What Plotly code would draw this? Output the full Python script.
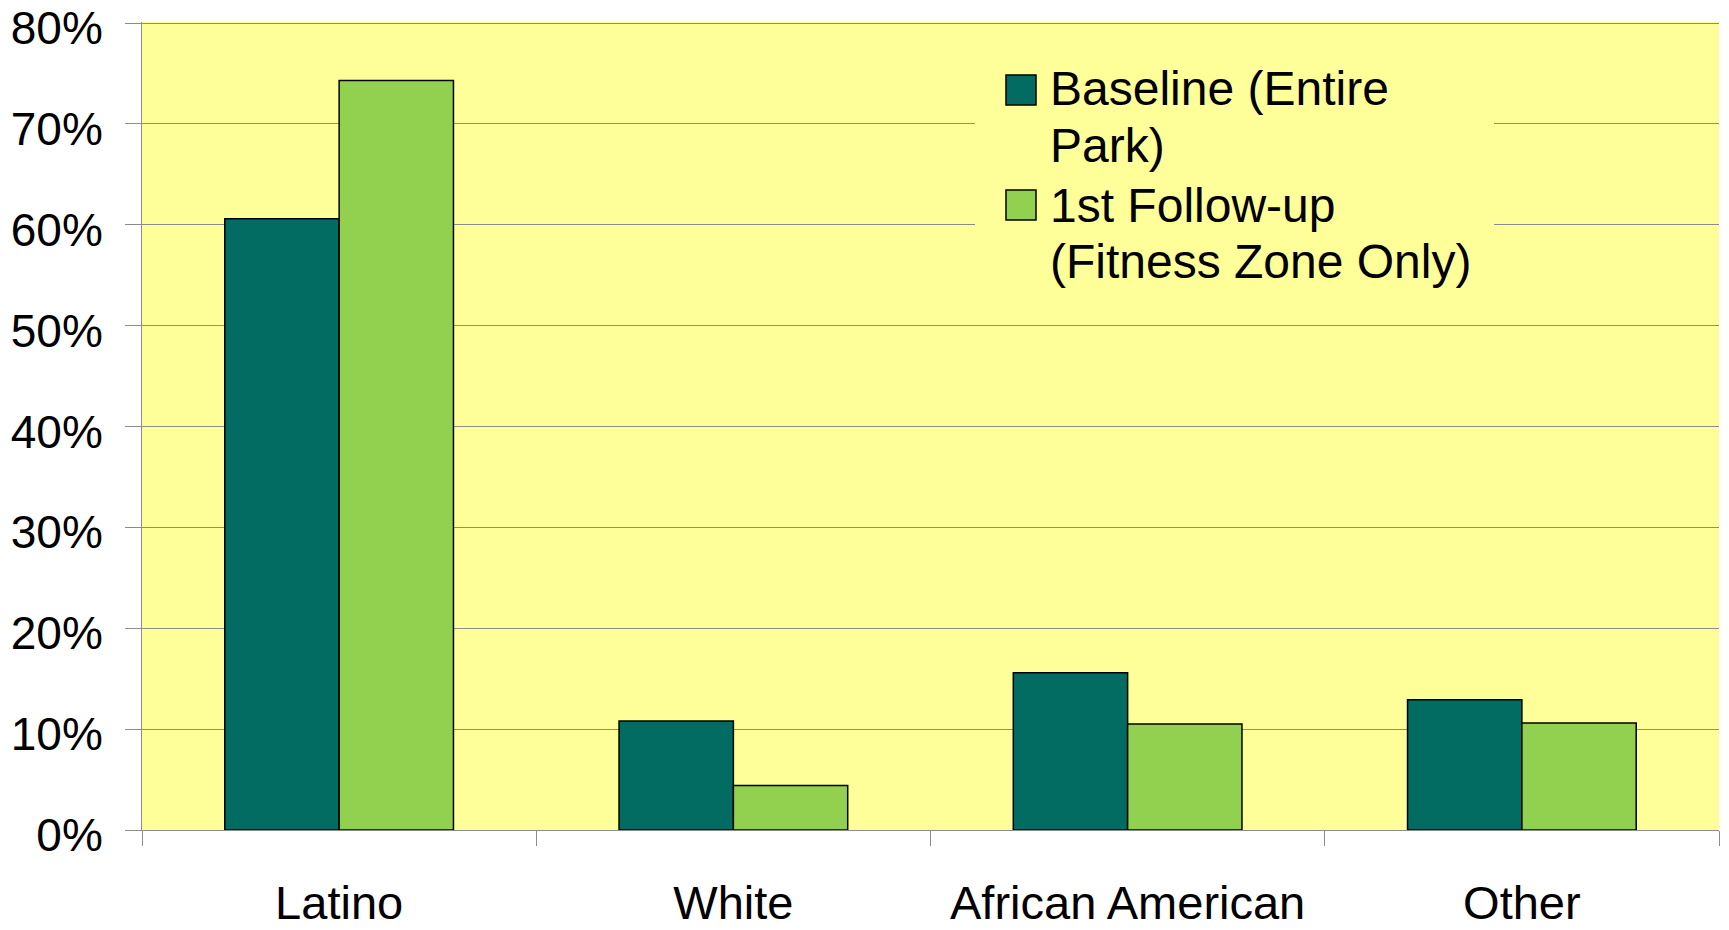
import plotly.graph_objects as go

# Share of park users by race/ethnicity (percent)
categories = ["Latino", "White", "African American", "Other"]
baseline = [60.6, 10.8, 15.6, 12.9]
follow_up = [74.3, 4.4, 10.5, 10.6]

series_names = ["Baseline (Entire Park)", "1st Follow-up (Fitness Zone Only)"]
legend_lines = [["Baseline (Entire", "Park)"], ["1st Follow-up", "(Fitness Zone Only)"]]
y_tick_values = [0, 10, 20, 30, 40, 50, 60, 70, 80]
y_tick_labels = ["0%", "10%", "20%", "30%", "40%", "50%", "60%", "70%", "80%"]

TEAL = "#036C62"
LIME = "#92D050"
PANEL = "#FFFF99"
GRID = "#8C8C8C"
FONT = "Liberation Sans, Arial, sans-serif"

W, H = 1729, 930
M_L, M_R, M_T, M_B = 142, 10, 22, 100
PLOT_W = W - M_L - M_R
PLOT_H = H - M_T - M_B


def px_x(x):
    """Pixel column -> paper x."""
    return (x - M_L) / PLOT_W


def px_y(y):
    """Pixel row -> paper y."""
    return (H - M_B - y) / PLOT_H


fig = go.Figure()
fig.add_trace(go.Bar(
    x=categories, y=baseline, name=series_names[0],
    marker=dict(color=TEAL, line=dict(color="#000000", width=1.5)),
))
fig.add_trace(go.Bar(
    x=categories, y=follow_up, name=series_names[1],
    marker=dict(color=LIME, line=dict(color="#000000", width=1.5)),
))

# Legend drawn as a panel-coloured box with swatches and wrapped labels
shapes = [
    dict(type="rect", xref="paper", yref="paper",
         x0=px_x(975), x1=px_x(1494), y0=px_y(285), y1=px_y(55),
         fillcolor=PANEL, line=dict(width=0), layer="above"),
]
annotations = []
swatch_tops = [75, 190]
line_centers = [[89, 145], [206, 261]]
for color, top, lines, centers in zip([TEAL, LIME], swatch_tops, legend_lines, line_centers):
    shapes.append(dict(type="rect", xref="paper", yref="paper",
                       x0=px_x(1006), x1=px_x(1036), y0=px_y(top + 30), y1=px_y(top),
                       fillcolor=color, line=dict(color="#000000", width=1.5),
                       layer="above"))
    for text, cy in zip(lines, centers):
        annotations.append(dict(xref="paper", yref="paper", x=px_x(1048), y=px_y(cy),
                                xanchor="left", yanchor="middle", text=text,
                                showarrow=False,
                                font=dict(family=FONT, size=48, color="#000000")))

fig.update_layout(
    width=W, height=H,
    margin=dict(l=M_L, r=M_R, t=M_T, b=M_B, pad=0, autoexpand=False),
    paper_bgcolor="#FFFFFF",
    plot_bgcolor=PANEL,
    barmode="group",
    bargap=0.42,
    bargroupgap=0,
    showlegend=False,
    font=dict(family=FONT, size=46, color="#000000"),
    shapes=shapes,
    annotations=annotations,
)
fig.update_xaxes(
    type="category",
    automargin=False,
    showline=True, linecolor=GRID, linewidth=1,
    ticks="outside", tickson="boundaries", ticklen=15, tickcolor=GRID, tickwidth=1,
    showgrid=False,
    ticklabelstandoff=32,
    tickfont=dict(family=FONT, size=47, color="#000000"),
)
fig.update_yaxes(
    range=[0, 80.1],
    automargin=False,
    tickvals=y_tick_values, ticktext=y_tick_labels,
    ticklabeloverflow="allow",
    showline=True, linecolor=GRID, linewidth=1,
    ticks="outside", ticklen=16, tickcolor=GRID, tickwidth=1,
    showgrid=True, gridcolor=GRID, gridwidth=1,
    zeroline=False,
    ticklabelstandoff=13,
    ticklabelshift=5,
    tickfont=dict(family=FONT, size=46, color="#000000"),
)

fig.write_html("out.html")
